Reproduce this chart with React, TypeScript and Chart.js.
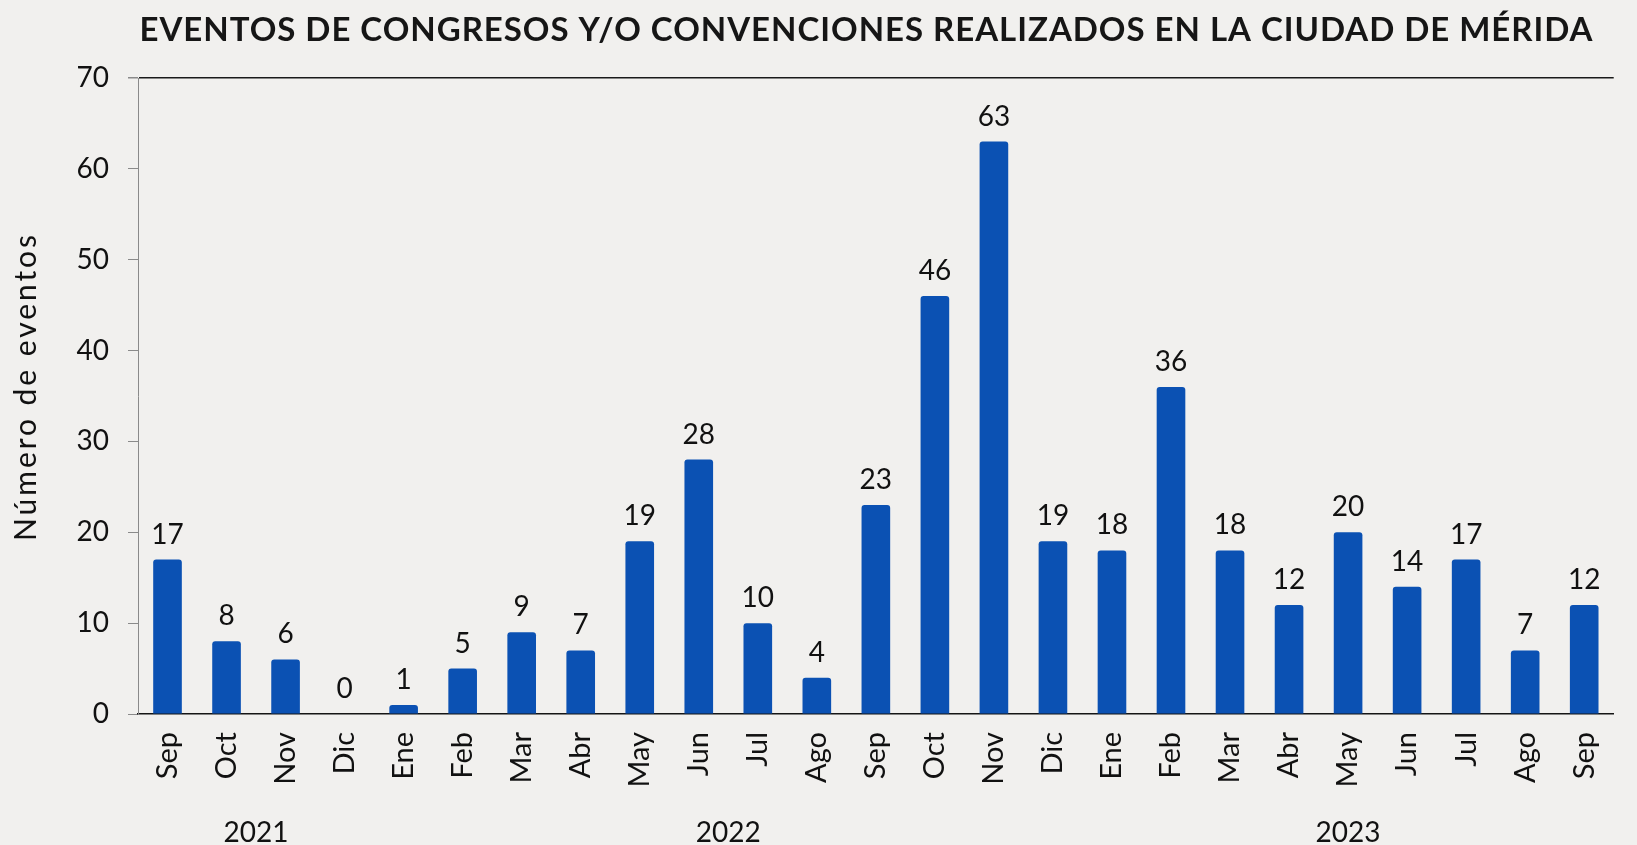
import React, { useEffect, useRef } from 'react';
import { Chart, registerables } from 'chart.js';

Chart.register(...registerables);

// ---- Data ----
const months: string[] = ['Sep', 'Oct', 'Nov', 'Dic', 'Ene', 'Feb', 'Mar', 'Abr', 'May', 'Jun', 'Jul', 'Ago', 'Sep', 'Oct', 'Nov', 'Dic', 'Ene', 'Feb', 'Mar', 'Abr', 'May', 'Jun', 'Jul', 'Ago', 'Sep'];
const eventos: number[] = [17, 8, 6, 0, 1, 5, 9, 7, 19, 28, 10, 4, 23, 46, 63, 19, 18, 36, 18, 12, 20, 14, 17, 7, 12];
const yearLabels: string[] = ['2021', '2022', '2023'];
const yearFirstIndex: number[] = [0, 4, 16];
const yearLastIndex: number[] = [3, 15, 24];
const yMin = 0;
const yMax = 70;
const yStep = 10;

const TITLE = 'EVENTOS DE CONGRESOS Y/O CONVENCIONES REALIZADOS EN LA CIUDAD DE MÉRIDA';
const Y_TITLE = 'Número de eventos';

const FONT = 'Lato, "Open Sans", sans-serif';
const BAR_COLOR = '#0B51B3';
const BG = '#F1F0EE';

function drawFitted(ctx: CanvasRenderingContext2D, text: string, cx: number, y: number, target: number) {
  (ctx as any).letterSpacing = '0px';
  const w0 = ctx.measureText(text).width;
  const n = Math.max(1, text.length - 1);
  const sp = (target - w0) / n;
  (ctx as any).letterSpacing = sp + 'px';
  ctx.textAlign = 'left';
  ctx.fillText(text, cx - target / 2, y);
  (ctx as any).letterSpacing = '0px';
}

const overlayPlugin = {
  id: 'overlay',
  beforeDraw(chart: any) {
    const { ctx, width, height } = chart;
    ctx.save();
    ctx.fillStyle = BG;
    ctx.fillRect(0, 0, width, height);
    ctx.restore();
  },
  afterDatasetsDraw(chart: any) {
    const { ctx } = chart;
    const meta = chart.getDatasetMeta(0);
    ctx.save();
    ctx.font = `28px ${FONT}`;
    ctx.fillStyle = '#111111';
    ctx.textAlign = 'center';
    ctx.textBaseline = 'alphabetic';
    meta.data.forEach((bar: any, i: number) => {
      ctx.fillText(String(eventos[i]), bar.x, bar.y - 16);
    });
    ctx.restore();
  },
  afterDraw(chart: any) {
    const { ctx, chartArea } = chart;
    const x = chart.scales.x;
    ctx.save();
    // Title
    ctx.font = `bold 33px ${FONT}`;
    ctx.fillStyle = '#161616';
    ctx.textBaseline = 'alphabetic';
    drawFitted(ctx, TITLE, 866, 41, 1453);
    // Y title
    ctx.save();
    ctx.translate(26, (chartArea.top + chartArea.bottom) / 2 - 8);
    ctx.rotate(-Math.PI / 2);
    ctx.font = `30px ${FONT}`;
    ctx.fillStyle = '#111111';
    ctx.textBaseline = 'middle';
    drawFitted(ctx, Y_TITLE, 0, 0, 306);
    ctx.restore();
    // Year labels
    ctx.font = `28px ${FONT}`;
    ctx.fillStyle = '#111111';
    ctx.textAlign = 'center';
    ctx.textBaseline = 'alphabetic';
    yearLabels.forEach((lbl, k) => {
      const x0 = x.getPixelForValue(yearFirstIndex[k]);
      const x1 = x.getPixelForValue(yearLastIndex[k]);
      ctx.fillText(lbl, (x0 + x1) / 2, 842);
    });
    ctx.restore();
  },
};

export default function App() {
  const canvasRef = useRef<HTMLCanvasElement | null>(null);

  useEffect(() => {
    if (!canvasRef.current) return;
    const chart = new Chart(canvasRef.current, {
      type: 'bar',
      data: {
        labels: months,
        datasets: [
          {
            data: eventos,
            backgroundColor: BAR_COLOR,
            borderWidth: 0,
            borderRadius: { topLeft: 3, topRight: 3, bottomLeft: 0, bottomRight: 0 },
            borderSkipped: 'start',
            barPercentage: 0.485,
            categoryPercentage: 1,
          },
        ],
      },
      options: {
        responsive: false,
        animation: false,
        layout: { padding: { top: 78, left: 0, right: 0, bottom: 0 } },
        plugins: {
          legend: { display: false },
          title: { display: false },
          tooltip: { enabled: false },
        },
        scales: {
          x: {
            grid: { display: false, drawTicks: false },
            border: { display: true, color: '#151515', width: 1.5 },
            ticks: {
              font: { family: FONT, size: 29 },
              color: '#111111',
              minRotation: 90,
              maxRotation: 90,
              padding: 18,
              autoSkip: false,
            },
            afterFit: (scale: any) => {
              scale.height = 131;
            },
          },
          y: {
            min: yMin,
            max: yMax,
            border: { display: true, color: '#8a8a8a', width: 1 },
            grid: {
              drawOnChartArea: true,
              color: (c: any) => (c.tick && c.tick.value === yMax ? '#1a1a1a' : 'rgba(0,0,0,0)'),
              lineWidth: (c: any) => (c.tick && c.tick.value === yMax ? 1.5 : 1),
              tickColor: '#8a8a8a',
              tickLength: 10,
            },
            ticks: {
              stepSize: yStep,
              font: { family: FONT, size: 28 },
              color: '#111111',
              padding: 19,
            },
            afterFit: (scale: any) => {
              scale.width = 138;
            },
          },
        },
      },
      plugins: [overlayPlugin],
    });
    return () => chart.destroy();
  }, []);

  return (
    <div style={{ position: 'fixed', left: 0, top: 0, width: 1637, height: 845, background: BG }}>
      <canvas ref={canvasRef} width={1637} height={845} style={{ display: 'block' }} />
    </div>
  );
}
